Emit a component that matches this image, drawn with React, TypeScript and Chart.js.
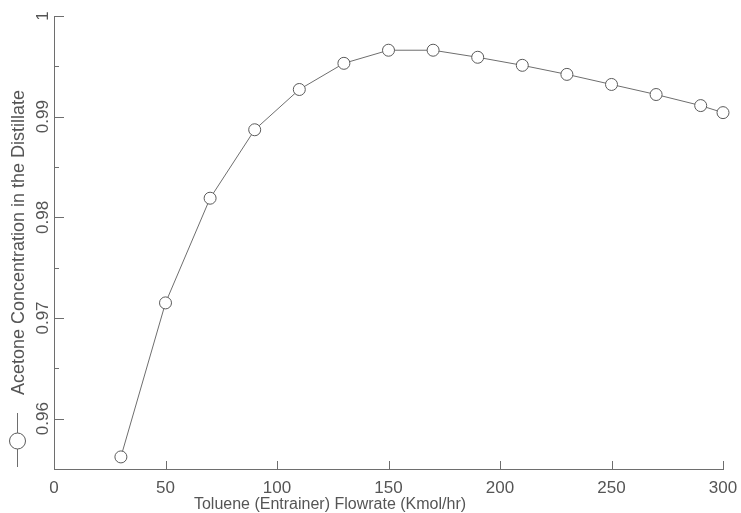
import React, { useEffect, useRef } from "react";
import { Chart, registerables } from "chart.js";

Chart.register(...registerables);

const flowrates = [30, 50, 70, 90, 110, 130, 150, 170, 190, 210, 230, 250, 270, 290, 300];
const acetoneConc = [0.9562, 0.9715, 0.9819, 0.9887, 0.9927, 0.9953, 0.9966, 0.9966, 0.9959, 0.9951, 0.9942, 0.9932, 0.9922, 0.9911, 0.9904];
const xTickValues = [0, 50, 100, 150, 200, 250, 300];
const yTickLabels = ["0.96", "0.97", "0.98", "0.99", "1"];
const seriesName = "Acetone Concentration in the Distillate";
const xTitle = "Toluene (Entrainer) Flowrate (Kmol/hr)";

const TEXT = "#555555";
const LINE = "#6e6e6e";
const FAMILY = "'Liberation Sans', Arial, sans-serif";

const customAxes = {
  id: "customAxes",
  afterDraw(chart: any) {
    const ctx = chart.ctx;
    const xs = chart.scales.x;
    const ys = chart.scales.y;
    const area = chart.chartArea;
    ctx.save();
    ctx.strokeStyle = LINE;
    ctx.lineWidth = 1;
    // y ticks (inward)
    ys.ticks.forEach((t: any) => {
      const v = t.value;
      const py = Math.round(ys.getPixelForValue(v)) + 0.5;
      const major = Math.abs(v * 100 - Math.round(v * 100)) < 1e-6;
      if (v <= ys.min + 1e-9) return;
      ctx.beginPath();
      ctx.moveTo(area.left, py);
      ctx.lineTo(area.left + (major ? 10 : 5), py);
      ctx.stroke();
    });
    // x ticks (inward)
    xTickValues.forEach((v) => {
      if (v === 0) return;
      const px = Math.round(xs.getPixelForValue(v)) + 0.5;
      ctx.beginPath();
      ctx.moveTo(px, area.bottom);
      ctx.lineTo(px, area.bottom - 8);
      ctx.stroke();
    });
    // tick labels
    ctx.fillStyle = TEXT;
    ctx.font = "17px " + FAMILY;
    ctx.textAlign = "center";
    ctx.textBaseline = "middle";
    xTickValues.forEach((v) => {
      const px = xs.getPixelForValue(v);
      ctx.fillText(String(v), px, area.bottom + 19);
    });
    yTickLabels.forEach((lab) => {
      const py = ys.getPixelForValue(parseFloat(lab));
      ctx.save();
      ctx.translate(area.left - 11, py);
      ctx.rotate(-Math.PI / 2);
      ctx.fillText(lab, 0, 0);
      ctx.restore();
    });
    // x title
    ctx.font = "16px " + FAMILY;
    ctx.fillText(xTitle, 330, area.bottom + 36);
    // legend symbol (rotated legend, drawn beneath the axis title)
    const ds = chart.data.datasets[0];
    const lx = 17.5;
    ctx.strokeStyle = ds.borderColor;
    ctx.beginPath();
    ctx.moveTo(lx, 413);
    ctx.lineTo(lx, 467);
    ctx.stroke();
    ctx.beginPath();
    ctx.arc(lx, 441, 8, 0, Math.PI * 2);
    ctx.fillStyle = "#ffffff";
    ctx.fill();
    ctx.strokeStyle = ds.pointBorderColor;
    ctx.stroke();
    ctx.restore();
  },
};

export default function App() {
  const ref = useRef<HTMLCanvasElement>(null);
  useEffect(() => {
    document.body.style.margin = "0";
    const canvas = ref.current;
    if (!canvas) return;
    const chart = new Chart(canvas, {
      type: "line",
      data: {
        datasets: [
          {
            label: seriesName,
            data: flowrates.map((x, i) => ({ x, y: acetoneConc[i] })),
            borderColor: LINE,
            borderWidth: 1,
            pointRadius: 6,
            pointBorderWidth: 1,
            pointBackgroundColor: "#ffffff",
            pointBorderColor: "#5a5a5a",
            tension: 0,
            fill: false,
            clip: false,
          },
        ],
      },
      options: {
        animation: false,
        responsive: false,
        maintainAspectRatio: false,
        layout: { padding: { left: 0, right: 18, top: 16, bottom: 0 } },
        plugins: { legend: { display: false }, tooltip: { enabled: false } },
        scales: {
          x: {
            type: "linear",
            min: 0,
            max: 300,
            ticks: { display: false, stepSize: 50 },
            grid: { display: false },
            border: { display: true, color: LINE, width: 1 },
            afterFit: (s: any) => {
              s.height = 44;
            },
          },
          y: {
            type: "linear",
            min: 0.955,
            max: 1,
            ticks: { display: false, stepSize: 0.005 },
            grid: { display: false },
            border: { display: true, color: LINE, width: 1 },
            title: {
              display: true,
              text: seriesName,
              color: TEXT,
              font: { family: FAMILY, size: 18 },
              padding: { top: 8, bottom: 0 },
            },
            afterFit: (s: any) => {
              s.width = 54;
            },
          },
        },
      },
      plugins: [customAxes],
    });
    return () => chart.destroy();
  }, []);
  return <canvas ref={ref} width={741} height={513} style={{ display: "block" }} />;
}
